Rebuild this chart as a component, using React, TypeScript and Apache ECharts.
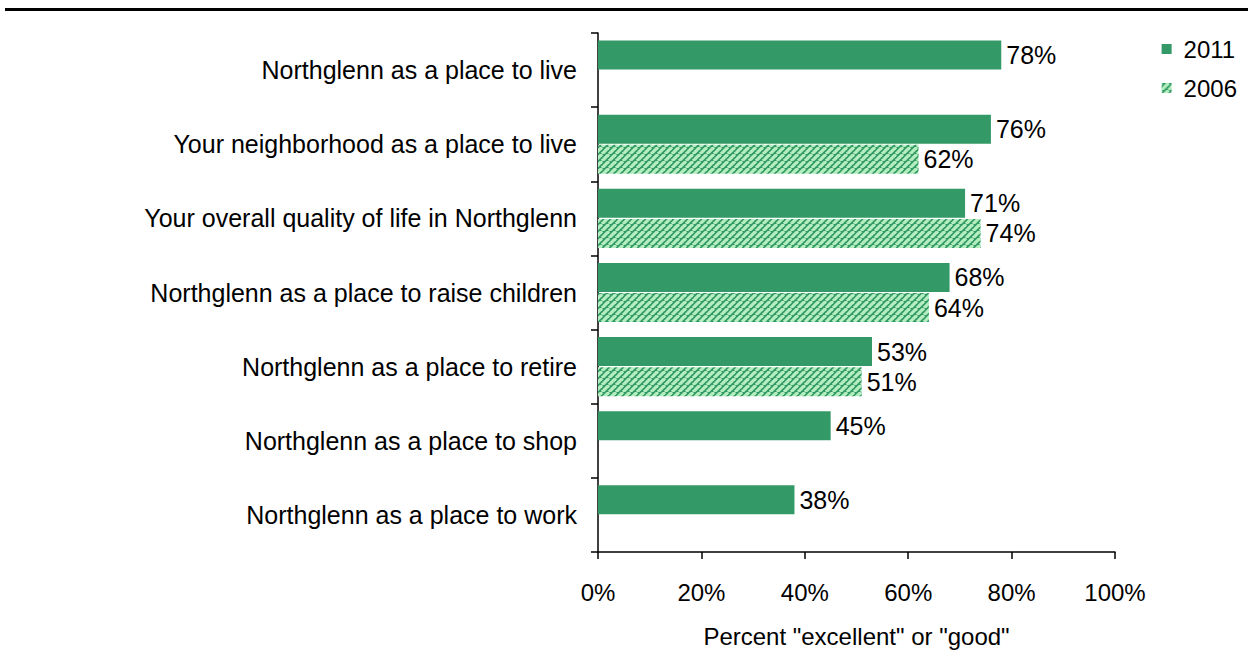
import React, { useEffect, useRef } from "react";
import * as echarts from "echarts";

const categories = [
  "Northglenn as a place to live",
  "Your neighborhood as a place to live",
  "Your overall quality of life in Northglenn",
  "Northglenn as a place to raise children",
  "Northglenn as a place to retire",
  "Northglenn as a place to shop",
  "Northglenn as a place to work",
];
const values2011 = [78, 76, 71, 68, 53, 45, 38];
const values2006: (number | null)[] = [null, 62, 74, 64, 51, null, null];
const xTicks = [0, 20, 40, 60, 80, 100];

function makeStripes(): HTMLCanvasElement {
  const c = document.createElement("canvas");
  const s = 7;
  c.width = s;
  c.height = s;
  const ctx = c.getContext("2d")!;
  ctx.fillStyle = "#339966";
  ctx.fillRect(0, 0, s, s);
  ctx.strokeStyle = "#b4eebf";
  ctx.lineWidth = 3.3;
  for (let k = -1; k <= 1; k++) {
    ctx.beginPath();
    ctx.moveTo(k * s, s);
    ctx.lineTo(k * s + s, 0);
    ctx.stroke();
  }
  return c;
}

export default function App() {
  const ref = useRef<HTMLDivElement>(null);
  useEffect(() => {
    if (!ref.current) return;
    const chart = echarts.init(ref.current, undefined, { renderer: "svg" });
    const stripe = { image: makeStripes(), repeat: "repeat" } as any;
    const font = "Arial, 'Liberation Sans', sans-serif";
    const fs = 24;
    chart.setOption({
      animation: false,
      textStyle: { fontFamily: font },
      grid: { left: 598, right: 133, top: 33, bottom: 98, outerBoundsMode: "none" } as any,
      legend: {
        orient: "vertical",
        right: 6,
        top: 32,
        itemWidth: 10,
        itemHeight: 10,
        itemGap: 15,
        icon: "rect",
        itemStyle: { borderWidth: 0, borderColor: "transparent" },
        textStyle: { fontSize: fs, color: "#000", fontFamily: font, padding: [0, 0, 0, 7] },
        data: ["2011", "2006"],
      },
      xAxis: {
        type: "value",
        min: 0,
        max: 100,
        interval: 20,
        axisLine: { show: true, lineStyle: { color: "#000", width: 1.5 } },
        axisTick: { show: true, length: 7, lineStyle: { color: "#000", width: 1.5 } },
        splitLine: { show: false },
        axisLabel: {
          formatter: (v: number) => (xTicks.includes(v) ? v + "%" : ""),
          fontSize: fs,
          color: "#000",
          margin: 28,
          fontFamily: font,
        },
        name: 'Percent "excellent" or "good"',
        nameLocation: "middle",
        nameGap: 72,
        nameTextStyle: { fontSize: fs, color: "#000", fontFamily: font },
      },
      yAxis: {
        type: "category",
        data: categories,
        inverse: true,
        axisLine: { show: true, lineStyle: { color: "#000", width: 1.5 } },
        axisTick: { show: true, length: 7, lineStyle: { color: "#000", width: 1.5 } },
        axisLabel: { fontSize: 25, color: "#000", margin: 21, fontFamily: font },
      },
      series: [
        {
          name: "2011",
          type: "bar",
          data: values2011,
          barWidth: 29,
          barGap: "4%",
          itemStyle: { color: "#339966" },
          label: {
            show: true,
            position: "right",
            distance: 5,
            formatter: "{c}%",
            fontSize: 25,
            color: "#000",
            fontFamily: font,
          },
        },
        {
          name: "2006",
          type: "bar",
          data: values2006,
          barWidth: 29,
          itemStyle: { color: stripe },
          label: {
            show: true,
            position: "right",
            distance: 5,
            formatter: "{c}%",
            fontSize: 25,
            color: "#000",
            fontFamily: font,
          },
        },
      ],
      graphic: [
        {
          type: "line",
          shape: { x1: 5, y1: 9.5, x2: 1248, y2: 9.5 },
          style: { stroke: "#000", lineWidth: 3 },
        },
      ],
    });
    return () => chart.dispose();
  }, []);
  return (
    <div
      ref={ref}
      style={{ position: "fixed", left: 0, top: 0, width: 1248, height: 650, background: "#fff" }}
    />
  );
}
